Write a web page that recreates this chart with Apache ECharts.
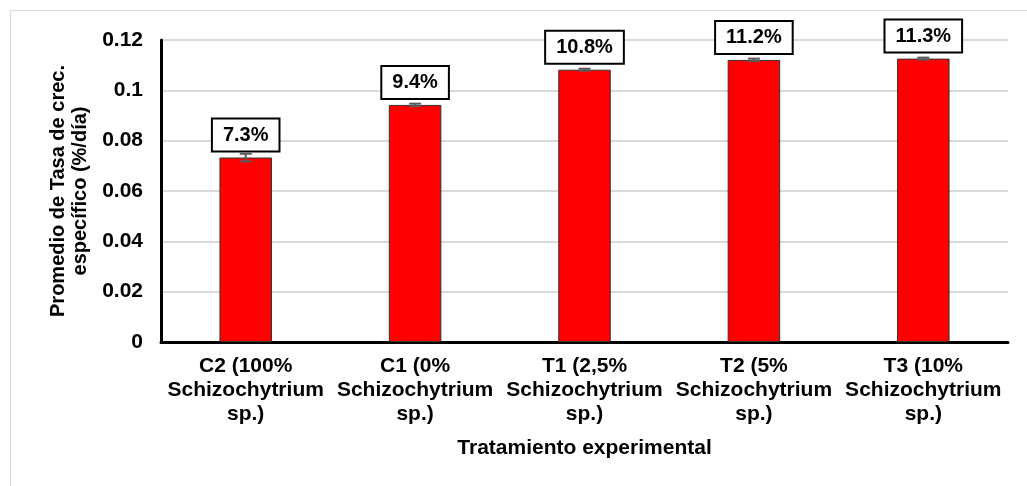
<!DOCTYPE html>
<html>
<head>
<meta charset="utf-8">
<script src="https://cdn.jsdelivr.net/npm/echarts@6/dist/echarts.min.js"></script>
<style>
  html, body { margin: 0; padding: 0; background: #fff; }
  #chart { width: 1027px; height: 486px; }
</style>
</head>
<body>
<div id="chart"></div>
<script>
// datos
const categories = [
  'C2 (100%\nSchizochytrium\nsp.)',
  'C1 (0%\nSchizochytrium\nsp.)',
  'T1 (2,5%\nSchizochytrium\nsp.)',
  'T2 (5%\nSchizochytrium\nsp.)',
  'T3 (10%\nSchizochytrium\nsp.)'
];
const means = [0.0733, 0.0942, 0.1082, 0.1121, 0.1126];
const errors = [0.0015, 0.0005, 0.0004, 0.0005, 0.0004];
const barLabels = ['7.3%', '9.4%', '10.8%', '11.2%', '11.3%'];
const yTicks = [0, 0.02, 0.04, 0.06, 0.08, 0.1, 0.12];

const chart = echarts.init(document.getElementById('chart'));
const font = '"Liberation Sans", Arial, sans-serif';

const options = {
  backgroundColor: '#fff',
  animation: false,
  textStyle: { fontFamily: font },
  graphic: [{
    type: 'rect',
    shape: { x: 10.5, y: 10.5, width: 1100, height: 1000 },
    style: { fill: 'none', stroke: '#d9d9d9', lineWidth: 1 },
    silent: true
  }],
  grid: { left: 161, right: 19, top: 40, bottom: 144 },
  xAxis: {
    type: 'category',
    data: categories,
    name: 'Tratamiento experimental',
    nameLocation: 'middle',
    nameGap: 96,
    nameTextStyle: { color: '#000', fontSize: 21, fontWeight: 'bold', fontFamily: font },
    axisLine: { lineStyle: { color: '#000', width: 3 } },
    axisTick: { show: false },
    axisLabel: {
      color: '#000', fontSize: 21, fontWeight: 'bold', fontFamily: font,
      lineHeight: 24, margin: 12, interval: 0
    }
  },
  yAxis: {
    type: 'value',
    min: 0,
    max: 0.12,
    interval: 0.02,
    name: 'Promedio de Tasa de crec.\nespecífico (%/día)',
    nameLocation: 'middle',
    nameRotate: 90,
    nameGap: 68,
    nameTextStyle: { color: '#000', fontSize: 20, fontWeight: 'bold', fontFamily: font, lineHeight: 22 },
    axisLine: { show: true, lineStyle: { color: '#000', width: 3 } },
    axisTick: { show: false },
    axisLabel: {
      color: '#000', fontSize: 21, fontWeight: 'bold', fontFamily: font, margin: 18,
      formatter: v => String(yTicks.find(t => Math.abs(t - v) < 1e-9) ?? v)
    },
    splitLine: { lineStyle: { color: '#d9d9d9', width: 2 } }
  },
  series: [
    {
      type: 'bar',
      data: means,
      barWidth: '31%',
      itemStyle: { color: '#ff0000', borderColor: '#333', borderWidth: 1 },
      label: {
        show: true,
        position: 'top',
        distance: 7,
        formatter: p => barLabels[p.dataIndex],
        color: '#000',
        fontSize: 20,
        fontWeight: 'bold',
        fontFamily: font,
        backgroundColor: '#fff',
        borderColor: '#000',
        borderWidth: 2,
        padding: [6, 10, 5, 10]
      },
      z: 2
    },
    {
      type: 'custom',
      data: means.map((m, i) => [i, m - errors[i], m + errors[i]]),
      renderItem: (params, api) => {
        const lo = api.coord([api.value(0), api.value(1)]);
        const hi = api.coord([api.value(0), api.value(2)]);
        const half = 6;
        const st = { stroke: '#595959', lineWidth: 2 };
        return {
          type: 'group',
          children: [
            { type: 'line', shape: { x1: lo[0], y1: lo[1], x2: hi[0], y2: hi[1] }, style: st },
            { type: 'line', shape: { x1: lo[0] - half, y1: lo[1], x2: lo[0] + half, y2: lo[1] }, style: st },
            { type: 'line', shape: { x1: hi[0] - half, y1: hi[1], x2: hi[0] + half, y2: hi[1] }, style: st }
          ]
        };
      },
      z: 3
    }
  ]
};

chart.setOption(options);
</script>
</body>
</html>
